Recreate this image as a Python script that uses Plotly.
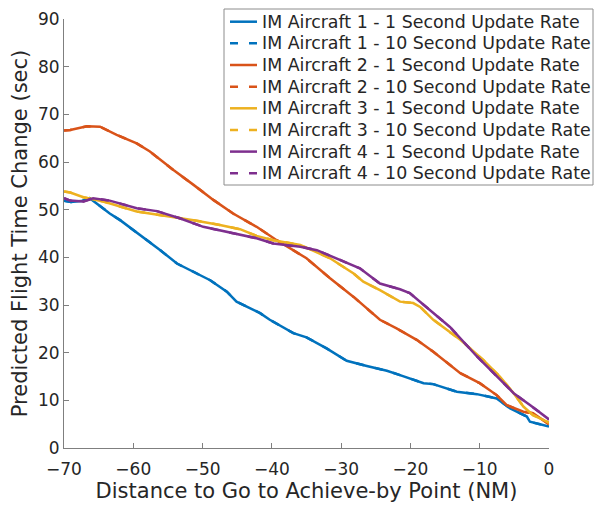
import plotly.graph_objects as go

# Distance to go (NM) and predicted flight time change (sec) for each IM aircraft
ac1_x = [-70, -69, -67.5, -66.3, -65, -63.4, -61.9, -59.0, -56.1, -53.7, -50.4, -48.9, -46.5, -45.1,
         -41.7, -40.3, -36.9, -35.0, -32.1, -29.2, -26.3, -23.4, -21.5, -18.1, -16.7, -13.3,
         -10.4, -7.55, -5.6, -3.2, -2.75, 0]
ac1_y = [51.9, 51.6, 51.8, 52.4, 51.0, 49.2, 47.8, 44.7, 41.5, 38.7, 36.3, 35.2, 32.8, 30.7,
         28.3, 26.9, 24.1, 23.2, 20.9, 18.3, 17.2, 16.2, 15.3, 13.6, 13.4, 11.8,
         11.3, 10.4, 8.3, 6.6, 5.5, 4.5]

ac2_x = [-70, -69.1, -66.7, -64.8, -62.4, -59.5, -57.6, -54.2, -51.3, -48.4, -45.6, -42.2,
         -39.3, -35.0, -31.6, -28.2, -24.4, -22.0, -19.1, -16.7, -12.8, -10.0, -7.55, -6.1,
         -3.7, -2.3, 0]
ac2_y = [66.6, 66.7, 67.5, 67.4, 65.7, 63.9, 62.2, 58.3, 55.2, 52.0, 49.2, 46.4,
         43.6, 39.8, 35.6, 31.7, 26.9, 25.1, 22.7, 20.2, 15.7, 13.6, 11.1, 9.0,
         7.6, 7.3, 5.0]

ac3_x = [-70, -69.1, -67.2, -64.3, -59.5, -56.1, -51.3, -47.5, -44.6, -42.2, -39.8, -35.9,
         -31.6, -28.2, -26.8, -24.4, -21.5, -19.6, -18.6, -16.7, -12.8, -9.5, -7.1, -5.1,
         -3.7, -2.3, 0]
ac3_y = [53.8, 53.6, 52.6, 51.7, 49.6, 48.9, 47.8, 46.8, 45.9, 44.5, 43.6, 42.6,
         39.8, 36.6, 34.9, 33.1, 30.7, 30.4, 29.6, 26.9, 22.7, 18.5, 15.0, 11.5,
         8.7, 6.9, 5.3]

ac4_x = [-70, -69.1, -67.2, -65.8, -63.4, -59.5, -56.6, -53.3, -49.9, -45.6, -42.2, -39.8,
         -35.9, -33.5, -30.2, -27.3, -24.4, -21.5, -20.1, -17.7, -14.3, -10.4, -7.1, -5.1,
         -2.75, 0]
ac4_y = [52.4, 51.9, 51.7, 52.4, 51.9, 50.3, 49.7, 48.2, 46.4, 45.1, 44.0, 42.9,
         42.2, 41.5, 39.4, 37.7, 34.5, 33.3, 32.5, 29.6, 25.4, 19.2, 14.3, 11.5,
         9.0, 6.0]

aircraft = [
    ("IM Aircraft 1", ac1_x, ac1_y, "#0072BD"),
    ("IM Aircraft 2", ac2_x, ac2_y, "#D95319"),
    ("IM Aircraft 3", ac3_x, ac3_y, "#EDB120"),
    ("IM Aircraft 4", ac4_x, ac4_y, "#7E2F8E"),
]
update_rates = [("1 Second Update Rate", "solid"), ("10 Second Update Rate", "8px,11px")]

x_ticks = [-70, -60, -50, -40, -30, -20, -10, 0]
y_ticks = [0, 10, 20, 30, 40, 50, 60, 70, 80, 90]

FONT = "DejaVu Sans"
INK = "#262626"
AXIS_GRAY = "#7f7f7f"

W, H = 595, 506
M_L, M_R, M_T, M_B = 64, 46, 19, 58
PLOT_W, PLOT_H = W - M_L - M_R, H - M_T - M_B


def px_to_paper(px, py):
    """Page pixel position -> paper coordinates of the plotting area."""
    return (px - M_L) / PLOT_W, (H - M_B - py) / PLOT_H


fig = go.Figure()
entries = []
for name, xs, ys, color in aircraft:
    for rate, dash in update_rates:
        label = f"{name} - {rate}"
        fig.add_trace(go.Scatter(
            x=xs, y=ys, mode="lines", name=label, showlegend=False,
            line=dict(color=color, width=2.5, dash=dash),
        ))
        entries.append((label, color, dash))

# Legend drawn as a framed key in the upper right, overlapping the plot edge
box_x0, box_y0 = px_to_paper(224, 185)
box_x1, box_y1 = px_to_paper(593, 9)
fig.add_shape(type="rect", xref="paper", yref="paper",
              x0=box_x0, y0=box_y0, x1=box_x1, y1=box_y1,
              line=dict(color="#8c8c8c", width=1), fillcolor="white", layer="above")

row_top, row_step = 21.7, 21.65
for i, (label, color, dash) in enumerate(entries):
    cy = row_top + i * row_step
    lx0, ly = px_to_paper(230, cy)
    lx1, _ = px_to_paper(257, cy)
    fig.add_shape(type="line", xref="paper", yref="paper",
                  x0=lx0, x1=lx1, y0=ly, y1=ly,
                  line=dict(color=color, width=2.5, dash=dash), layer="above")
    tx, ty = px_to_paper(260, cy)
    fig.add_annotation(xref="paper", yref="paper", x=tx, y=ty,
                       xanchor="left", yanchor="middle", showarrow=False,
                       text=label, font=dict(family=FONT, size=17.4, color=INK))


def tick_text(v):
    return f"\u2212{abs(v)}" if v < 0 else str(v)


axis_common = dict(
    showline=True, linecolor=AXIS_GRAY, linewidth=1,
    ticks="inside", ticklen=5, tickcolor=AXIS_GRAY, tickwidth=1,
    showgrid=False, zeroline=False, mirror=False, automargin=False,
    tickfont=dict(family=FONT, size=17, color=INK),
)

fig.update_layout(
    width=W, height=H,
    margin=dict(l=M_L, r=M_R, t=M_T, b=M_B),
    paper_bgcolor="white", plot_bgcolor="white",
    font=dict(family=FONT, color=INK),
    showlegend=False,
    xaxis=dict(
        range=[-70, 0], tickvals=x_ticks, ticktext=[tick_text(v) for v in x_ticks],
        ticklabelstandoff=6,
        title=dict(text="Distance to Go to Achieve-by Point (NM)",
                   font=dict(family=FONT, size=21, color=INK), standoff=4),
        **axis_common,
    ),
    yaxis=dict(
        range=[0, 90], tickvals=y_ticks, ticktext=[tick_text(v) for v in y_ticks],
        title=dict(text="Predicted Flight Time Change (sec)",
                   font=dict(family=FONT, size=21, color=INK), standoff=4),
        **axis_common,
    ),
)

fig.write_html("out.html")
